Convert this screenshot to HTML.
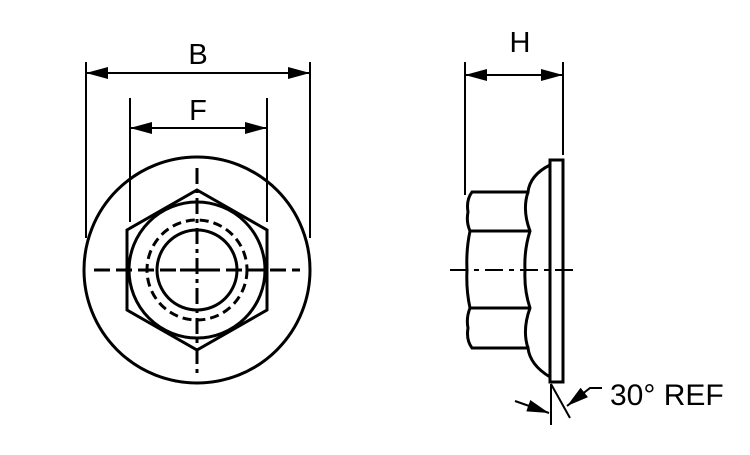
<!DOCTYPE html><html><head><style>body{margin:0;background:#fff}</style></head><body>
<svg width="750" height="450" viewBox="0 0 750 450" xmlns="http://www.w3.org/2000/svg" font-family="Liberation Sans, sans-serif">
<defs>
<marker id="b" markerWidth="22" markerHeight="12" refX="22" refY="6" orient="auto-start-reverse" markerUnits="userSpaceOnUse"><path d="M0,0L22,6L0,12z"/></marker></defs>
<g fill="none" stroke="#000" stroke-width="3">
<circle cx="197" cy="270" r="113"/>
<polygon points="197,190 267,230 267,310 197,350 127,310 127,230"/>
<circle cx="197" cy="270" r="68"/>
<circle cx="197" cy="270" r="50" stroke-dasharray="9,5"/>
<circle cx="197" cy="270" r="40"/>
</g>
<g stroke="#000" stroke-width="3" fill="none">
<line x1="94" y1="270" x2="300" y2="270" stroke-dasharray="16,6"/>
<line x1="197" y1="168" x2="197" y2="375" stroke-dasharray="16,5,4,5"/>
<line x1="180" y1="270" x2="214" y2="270"/>
</g>
<g stroke="#000" stroke-width="2" fill="none">
<line x1="86" y1="62" x2="86" y2="238"/><line x1="310" y1="62" x2="310" y2="238"/>
<line x1="86" y1="73" x2="310" y2="73" marker-start="url(#b)" marker-end="url(#b)"/>
<line x1="130" y1="98" x2="130" y2="222"/><line x1="267" y1="98" x2="267" y2="222"/>
<line x1="130" y1="128" x2="267" y2="128" marker-start="url(#b)" marker-end="url(#b)"/>
<line x1="465" y1="62" x2="465" y2="195"/><line x1="563" y1="62" x2="563" y2="155"/>
<line x1="465" y1="75" x2="563" y2="75" marker-start="url(#b)" marker-end="url(#b)"/>
</g>
<text x="198" y="64" font-size="29" text-anchor="middle">B</text>
<text x="198" y="120" font-size="29" text-anchor="middle">F</text>
<text x="520" y="52" font-size="29" text-anchor="middle">H</text>
<g fill="none" stroke="#000" stroke-width="3">
<rect x="550" y="160" width="13" height="222"/>
<path d="M550,165 Q530,175 528,192 L472,192 Q466,200 468,212 Q466,222 470,231 Q466,250 467,270 Q466,290 470,308 Q466,318 468,328 Q466,340 472,348 L528,348 Q530,365 550,377"/>
<path d="M528,192 Q522,210 530,231 Q524,250 525,270 Q524,290 530,308 Q522,330 528,348"/>
<line x1="470" y1="231" x2="530" y2="231"/><line x1="470" y1="308" x2="530" y2="308"/>
</g>
<line x1="450" y1="270" x2="573" y2="270" stroke="#000" stroke-width="2" stroke-dasharray="18,6,5,6"/>
<g stroke="#000" stroke-width="2" fill="none">
<line x1="551" y1="384" x2="551" y2="425"/>
<line x1="551" y1="384" x2="570" y2="418"/>
<line x1="515" y1="401" x2="549" y2="413" marker-end="url(#b)"/>
<polyline points="602,388 590,388 567,406" marker-end="url(#b)"/>
</g>
<text x="610" y="405" font-size="30">30° REF</text>
</svg></body></html>
